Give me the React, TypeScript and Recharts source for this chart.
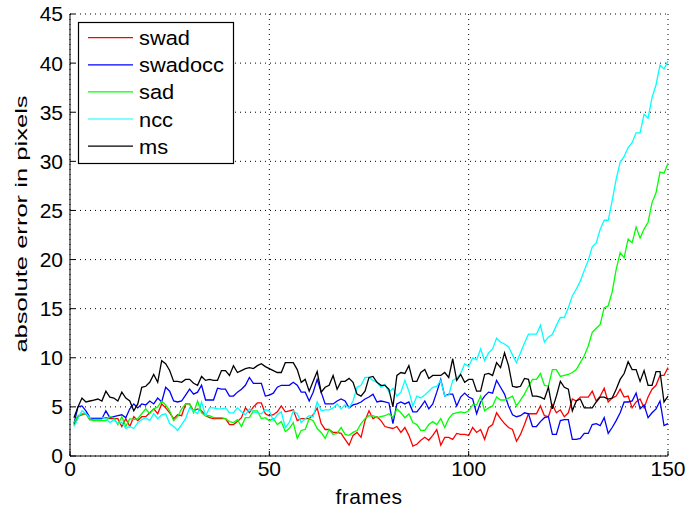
import React from 'react';
import { LineChart, Line, XAxis, YAxis, CartesianGrid, Legend } from 'recharts';

// Tracking error per frame for five matching methods
const frames: number[] = Array.from({ length: 150 }, (_, i) => i + 1);

const swad: number[] = [
  3.1, 4.0, 4.2, 4.3, 3.7, 3.8, 3.8, 3.8, 3.9, 3.8,
  3.8, 3.8, 3.0, 3.8, 3.0, 4.0, 3.6, 4.0, 4.0, 4.4,
  4.8, 4.3, 5.3, 4.9, 4.4, 3.8, 4.2, 4.1, 5.3, 5.3,
  4.6, 4.8, 4.6, 4.1, 3.9, 3.8, 3.8, 3.8, 3.8, 3.2,
  3.2, 3.5, 3.9, 4.9, 4.4, 5.0, 5.4, 5.4, 4.3, 4.1,
  4.2, 4.5, 5.1, 4.5, 4.6, 4.7, 3.6, 3.8, 3.8, 3.8,
  4.2, 4.9, 3.3, 2.7, 2.7, 2.4, 2.4, 2.3, 1.7, 1.1,
  2.1, 2.4, 1.9, 3.6, 4.6, 3.8, 4.0, 3.6, 3.0, 2.9,
  2.8, 3.0, 2.4, 2.9, 2.1, 1.0, 1.2, 1.6, 1.9, 1.6,
  2.1, 2.7, 1.1, 1.9, 1.9, 1.7, 2.3, 2.2, 2.2, 2.1,
  2.9, 2.4, 2.7, 1.7, 2.9, 3.2, 4.4, 3.8, 3.3, 2.9,
  2.7, 1.5, 2.2, 3.2, 4.3, 4.3, 4.3, 5.1, 4.1, 4.0,
  5.2, 4.4, 4.7, 4.0, 4.4, 5.8, 5.6, 6.0, 6.0, 6.0,
  6.6, 5.6, 6.1, 6.9, 5.5, 5.9, 6.1, 6.8, 6.0, 6.1,
  4.9, 5.5, 5.8, 4.9, 6.0, 6.8, 7.2, 8.2, 8.2, 9.0,
];

const swadocc: number[] = [
  3.3, 5.0, 5.1, 4.6, 3.9, 3.8, 3.8, 3.8, 4.6, 3.9,
  4.0, 4.1, 4.2, 3.9, 4.8, 5.3, 4.9, 5.3, 5.2, 5.6,
  5.3, 5.9, 5.5, 7.0, 6.6, 5.6, 5.5, 5.6, 6.2, 6.8,
  6.3, 6.5, 7.2, 5.7, 5.7, 5.7, 6.9, 6.8, 6.8, 6.1,
  6.1, 6.5, 6.8, 7.2, 8.0, 7.4, 7.4, 7.4, 6.1, 6.2,
  6.4, 7.0, 7.2, 7.2, 7.2, 7.5, 7.2, 6.5, 6.5, 5.6,
  6.5, 7.8, 6.5, 5.3, 5.3, 5.3, 5.6, 5.8, 5.6, 4.9,
  5.2, 5.3, 5.5, 5.8, 6.0, 6.3, 5.5, 5.6, 5.5, 5.4,
  3.3, 5.3, 5.5, 5.3, 5.5, 4.5, 4.5, 5.0, 5.6, 4.8,
  5.3, 6.5, 7.8, 6.1, 6.3, 6.3, 5.1, 6.0, 6.4, 6.0,
  5.8, 4.3, 5.5, 6.1, 6.5, 6.4, 7.7, 7.0, 6.3, 5.1,
  4.2, 4.0, 4.1, 4.4, 4.3, 3.0, 3.0, 3.5, 3.9, 4.0,
  2.2, 2.2, 3.6, 3.7, 3.7, 1.7, 1.7, 1.8, 2.3, 2.3,
  3.2, 3.3, 3.1, 3.9, 2.3, 2.9, 3.6, 4.4, 5.5, 5.5,
  5.6, 6.4, 4.8, 5.2, 3.9, 4.4, 4.8, 5.6, 3.1, 3.3,
];

const sad: number[] = [
  3.4, 4.1, 4.3, 4.3, 3.7, 3.6, 3.6, 3.6, 3.6, 4.0,
  3.9, 3.2, 4.0, 3.0, 3.8, 3.7, 3.8, 4.3, 4.8, 4.3,
  4.8, 5.0, 5.6, 5.2, 4.6, 3.6, 4.0, 4.8, 5.3, 5.3,
  4.4, 5.6, 4.4, 4.1, 4.1, 3.9, 3.9, 3.9, 3.8, 3.5,
  3.4, 3.7, 3.0, 3.9, 3.9, 4.6, 4.6, 3.8, 3.9, 3.6,
  3.8, 3.2, 3.5, 2.5, 2.8, 3.4, 1.8, 2.6, 2.7, 3.8,
  3.6, 2.8, 2.4, 1.8, 2.7, 2.2, 2.3, 2.9, 2.2, 2.1,
  2.4, 2.6, 3.3, 3.8, 4.1, 4.1, 3.9, 4.0, 4.1, 4.3,
  3.9, 4.8, 4.4, 3.9, 4.3, 3.4, 3.2, 2.6, 2.6, 3.2,
  3.5, 3.2, 3.8, 2.9, 3.8, 4.3, 4.4, 4.5, 4.4, 4.6,
  5.2, 5.2, 6.1, 4.6, 4.9, 5.1, 6.0, 5.7, 5.7, 5.9,
  6.1, 5.1, 5.7, 6.3, 7.1, 7.8, 7.8, 8.4, 7.2, 7.1,
  8.8, 8.8, 8.1, 8.2, 8.3, 8.5, 8.8, 9.5, 10.2, 11.2,
  12.6, 13.0, 13.4, 15.1, 15.3, 16.7, 19.0, 20.7, 20.2, 22.1,
  21.7, 23.3, 22.2, 23.1, 23.8, 25.8, 26.8, 28.9, 28.8, 29.8,
];

const ncc: number[] = [
  3.0, 3.8, 4.6, 4.3, 3.9, 3.9, 3.9, 3.9, 3.8, 3.4,
  3.7, 3.3, 3.4, 2.8, 3.0, 2.8, 3.4, 3.7, 3.9, 3.6,
  4.3, 3.8, 4.2, 4.3, 3.3, 3.0, 2.6, 3.2, 3.8, 4.9,
  4.6, 4.3, 5.5, 4.1, 4.9, 4.9, 4.8, 4.8, 4.9, 4.4,
  4.4, 4.9, 4.5, 4.2, 4.8, 4.5, 4.4, 4.3, 4.7, 4.6,
  3.6, 4.2, 4.5, 2.9, 3.4, 4.6, 4.3, 3.4, 3.8, 4.1,
  4.0, 5.5, 4.6, 4.7, 4.7, 4.9, 5.3, 4.8, 5.2, 4.9,
  5.6, 7.0, 7.2, 8.0, 8.0, 7.7, 7.5, 7.0, 7.3, 6.5,
  6.9, 6.1, 6.5, 7.7, 6.6, 5.1, 6.1, 5.9, 6.2, 6.6,
  7.0, 7.1, 7.7, 6.1, 6.2, 7.7, 7.9, 8.4, 9.4, 9.1,
  10.0, 9.8, 10.9, 9.7, 10.5, 10.9, 12.0, 11.6, 11.4, 11.1,
  10.3, 9.5, 10.5, 11.5, 12.4, 12.4, 12.4, 13.3, 11.6, 12.1,
  12.4, 13.3, 14.1, 14.1, 15.1, 16.3, 17.0, 17.8, 18.9, 19.9,
  21.3, 21.7, 23.1, 24.0, 24.0, 26.0, 28.2, 29.9, 30.5, 31.4,
  31.9, 32.9, 32.9, 34.8, 34.4, 36.5, 37.8, 39.8, 39.4, 40.2,
];

const ms: number[] = [
  3.9, 5.0, 5.9, 5.5, 5.6, 5.7, 5.8, 5.6, 6.6, 6.0,
  5.9, 5.6, 6.5, 5.9, 5.6, 4.6, 5.3, 7.0, 7.1, 7.5,
  8.3, 7.5, 9.7, 9.4, 8.7, 7.6, 7.6, 7.5, 7.8, 7.8,
  7.4, 7.2, 8.1, 7.7, 7.8, 7.7, 7.7, 8.7, 8.7, 8.2,
  9.2, 8.5, 8.7, 8.9, 9.0, 8.9, 9.2, 9.4, 9.1, 8.9,
  8.7, 8.5, 8.5, 9.5, 9.5, 9.5, 8.8, 7.5, 7.8, 6.6,
  7.6, 8.6, 6.5, 7.0, 7.2, 8.2, 6.8, 7.6, 7.6, 7.9,
  7.5, 6.3, 6.1, 6.6, 8.0, 8.1, 7.5, 7.2, 7.2, 6.8,
  5.0, 8.2, 8.5, 8.4, 9.2, 7.6, 7.6, 8.5, 8.8, 7.9,
  8.2, 8.2, 8.2, 8.5, 8.0, 9.9, 7.7, 8.3, 7.5, 7.8,
  7.8, 6.6, 6.6, 8.3, 8.4, 8.2, 9.5, 9.0, 10.5, 9.2,
  7.1, 7.0, 7.1, 7.9, 7.8, 6.1, 6.1, 6.0, 5.8, 7.0,
  4.8, 6.1, 7.6, 7.0, 6.8, 4.6, 5.6, 5.8, 4.9, 4.9,
  4.9, 5.5, 6.0, 6.0, 5.8, 5.9, 6.8, 7.8, 8.4, 9.6,
  8.8, 8.8, 7.6, 8.7, 7.2, 7.2, 8.6, 8.6, 5.5, 6.1,
];

const xTicks: number[] = [0, 50, 100, 150];
const yTicks: number[] = [0, 5, 10, 15, 20, 25, 30, 35, 40, 45];

const seriesNames: string[] = ['swad', 'swadocc', 'sad', 'ncc', 'ms'];
const seriesColors: string[] = ['#ff0000', '#0000ff', '#00ff00', '#00ffff', '#000000'];
const seriesValues: number[][] = [swad, swadocc, sad, ncc, ms];

const data = frames.map((frame, i) => {
  const row: Record<string, number> = { frame };
  seriesNames.forEach((name, k) => {
    row[name] = seriesValues[k][i];
  });
  return row;
});

const FONT = '"Liberation Sans", Arial, Helvetica, sans-serif';

const LegendBox = () => (
  <svg width={157} height={143} style={{ display: 'block', overflow: 'visible' }}>
    <rect x={0.5} y={0.5} width={155} height={141} fill="#ffffff" stroke="#000000" strokeWidth={1.2} />
    {seriesNames.map((name, i) => {
      const y = 15.7 + i * 27.1;
      return (
        <g key={name}>
          <line x1={10} x2={55} y1={y} y2={y} stroke={seriesColors[i]} strokeWidth={1.2} />
          <text
            transform={`translate(61, ${y + 7.5}) scale(1.12, 1)`}
            fontFamily={FONT}
            fontSize={19.5}
            fill="#000000"
          >
            {name}
          </text>
        </g>
      );
    })}
  </svg>
);

const XLabel = (props: any) => {
  const vb = props.viewBox || {};
  const cx = (vb.x ?? 0) + (vb.width ?? 0) / 2;
  const y = (vb.y ?? 0) + 48;
  return (
    <text x={cx} y={y} textAnchor="middle" fontFamily={FONT} fontSize={21} letterSpacing={0.5} fill="#000000">
      frames
    </text>
  );
};

const YLabel = () => (
  <text
    transform="translate(26.5, 224) rotate(-90) scale(1.55, 1)"
    textAnchor="middle"
    fontFamily={FONT}
    fontSize={16.5}
    fill="#000000"
  >
    absolute error in pixels
  </text>
);

export default function App() {
  return (
    <div style={{ position: 'absolute', left: 0, top: 0, width: 688, height: 513, background: '#ffffff' }}>
      <LineChart
        width={688}
        height={513}
        data={data}
        margin={{ top: 14, right: 20, bottom: 0, left: 0 }}
      >
        <CartesianGrid
          stroke="#000000"
          strokeDasharray="1 4"
          strokeWidth={1}
          horizontal
          vertical
        />
        <XAxis
          dataKey="frame"
          type="number"
          domain={[0, 150]}
          ticks={xTicks}
          interval={0}
          height={57}
          tickSize={-5}
          tickMargin={10}
          axisLine={{ stroke: '#000000', strokeWidth: 1 }}
          tickLine={{ stroke: '#000000', strokeWidth: 1 }}
          tick={{ fill: '#000000', fontSize: 21, fontFamily: FONT }}
          label={<XLabel />}
        />
        <YAxis
          type="number"
          domain={[0, 45]}
          ticks={yTicks}
          interval={0}
          width={70}
          tickSize={-5}
          tickMargin={12}
          axisLine={{ stroke: '#000000', strokeWidth: 1 }}
          tickLine={{ stroke: '#000000', strokeWidth: 1 }}
          tick={{ fill: '#000000', fontSize: 21, fontFamily: FONT }}
          label={<YLabel />}
        />
        <Legend
          layout="horizontal"
          verticalAlign="middle"
          align="center"
          content={<LegendBox />}
          wrapperStyle={{ position: 'absolute', left: 78, top: 22, width: 157, height: 143 }}
        />
        {seriesNames.map((name, i) => (
          <Line
            key={name}
            type="linear"
            dataKey={name}
            name={name}
            stroke={seriesColors[i]}
            strokeWidth={1.3}
            dot={false}
            activeDot={false}
            isAnimationActive={false}
          />
        ))}
      </LineChart>
    </div>
  );
}
